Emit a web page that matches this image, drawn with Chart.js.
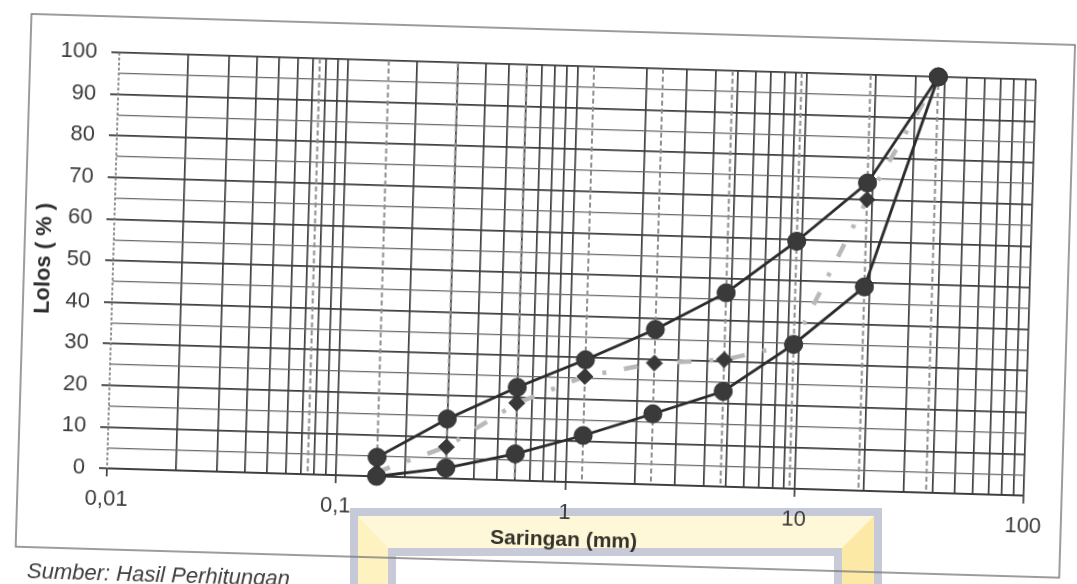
<!DOCTYPE html>
<html>
<head>
<meta charset="utf-8">
<style>
  html, body { margin: 0; padding: 0; background: #ffffff; width: 1077px; height: 584px; overflow: hidden; }
  #wm-outer { position: absolute; left: 350px; top: 508px; width: 516px; height: 200px;
    border-top: 8px solid #c6c9d8; border-left: 8px solid #c6c9d8; border-right: 8px solid #c6c9d8; }
  #wm-mid { position: absolute; left: 0; top: 0; right: 0; bottom: 0;
    border-top: 32px solid #fff8d8; border-left: 30px solid #fdf2c0; border-right: 32px solid #fce9a6; }
  #wm-inner { position: absolute; left: 0; top: 0; right: 0; bottom: 0;
    border-top: 8px solid #c8cad8; border-left: 8px solid #c8cad8; border-right: 8px solid #c8cad8; background: #ffffff; }
  #wrap { position: absolute; left: 0; top: 0; width: 1100px; height: 640px;
    transform-origin: 569px 274px; transform: rotate(1.7deg); }
  canvas { display: block; }
</style>
<script src="https://cdn.jsdelivr.net/npm/chart.js@4/dist/chart.umd.min.js"></script>
</head>
<body>
<div id="wm-outer"><div id="wm-mid"><div id="wm-inner"></div></div></div>
<div id="wrap"><canvas id="c" width="1100" height="640"></canvas></div>
<script>
// ---- data ----
const sieveSizes = [0.15, 0.3, 0.6, 1.18, 2.36, 4.75, 9.5, 19, 37.5];
const upperLimit = [4.6, 14.3, 22.4, 29.5, 37.3, 46.6, 59.5, 74.0, 100];
const gradation  = [1.0, 7.6, 18.6, 25.5, 29.2, 30.5, 34.8, 70.0, 100];
const lowerLimit = [0.0, 2.5, 6.4, 11.3, 17.0, 22.9, 34.7, 49.0, 100];
const sieveLines = [0.075, 0.15, 0.3, 0.6, 1.18, 2.36, 4.75, 9.5, 19, 37.5];
const xTickValues = [0.01, 0.1, 1, 10, 100];
const xTickLabels = ['0,01', '0,1', '1', '10', '100'];
const yTickValues = [0, 10, 20, 30, 40, 50, 60, 70, 80, 90, 100];
const yTickLabels = ['0', '10', '20', '30', '40', '50', '60', '70', '80', '90', '100'];
const xTitle = 'Saringan (mm)';
const yTitle = 'Lolos ( % )';
const sourceNote = 'Sumber: Hasil Perhitungan';

function pts(ys) { return sieveSizes.map((x, i) => ({ x: x, y: ys[i] })); }
function sameLog(a, b) { return Math.abs(Math.log10(a) - Math.log10(b)) < 1e-6; }
function isMajorX(v) { return xTickValues.some(t => sameLog(v, t)); }
function xLabel(v) {
  const i = xTickValues.findIndex(t => sameLog(v, t));
  return i >= 0 ? xTickLabels[i] : '';
}
function yLabel(v) {
  const i = yTickValues.findIndex(t => Math.abs(t - v) < 1e-6);
  return i >= 0 ? yTickLabels[i] : '';
}

const FONT = "'Liberation Sans', Arial, sans-serif";

const decorPlugin = {
  id: 'decor',
  beforeDraw(chart) {
    const ctx = chart.ctx;
    ctx.save();
    ctx.strokeStyle = '#7c7c7c';
    ctx.lineWidth = 1.5;
    ctx.strokeRect(24, 30, 1044, 533);
    ctx.fillStyle = '#3e3e3e';
    ctx.font = 'italic 22px ' + FONT;
    ctx.textBaseline = 'middle';
    ctx.textAlign = 'left';
    ctx.fillText(sourceNote, 36, 588);
    ctx.restore();
  },
  beforeDatasetsDraw(chart) {
    const ctx = chart.ctx;
    const xs = chart.scales.x;
    const a = chart.chartArea;
    ctx.save();
    // left edge drawn as a grey dashed line
    ctx.strokeStyle = '#7a7a7a';
    ctx.lineWidth = 1.6;
    ctx.setLineDash([3, 2]);
    const lx = xs.getPixelForValue(xTickValues[0]);
    ctx.beginPath(); ctx.moveTo(lx, a.top); ctx.lineTo(lx, a.bottom); ctx.stroke();
    // dashed sieve lines
    ctx.strokeStyle = '#8e8e8e';
    ctx.lineWidth = 2;
    ctx.setLineDash([5, 3]);
    sieveLines.forEach(v => {
      const px = xs.getPixelForValue(v);
      ctx.beginPath();
      ctx.moveTo(px, a.top);
      ctx.lineTo(px, a.bottom);
      ctx.stroke();
    });
    ctx.restore();
  }
};

new Chart(document.getElementById('c'), {
  type: 'line',
  data: {
    datasets: [
      {
        label: 'Batas Atas', data: pts(upperLimit), order: 1, clip: false,
        borderColor: '#2b2b2b', borderWidth: 2.8, tension: 0,
        pointRadius: 9, pointBackgroundColor: '#3a3a3a', pointBorderColor: '#303030', pointBorderWidth: 1
      },
      {
        label: 'Batas Bawah', data: pts(lowerLimit), order: 2, clip: false,
        borderColor: '#2b2b2b', borderWidth: 2.8, tension: 0,
        pointRadius: 9, pointBackgroundColor: '#3a3a3a', pointBorderColor: '#303030', pointBorderWidth: 1
      },
      {
        label: 'Gradasi', data: pts(gradation), order: 3, clip: false,
        borderColor: '#b8b8b8', borderWidth: 4.5, borderDash: [14, 18, 4, 18], tension: 0,
        pointStyle: 'rectRot', pointRadius: 8, pointBackgroundColor: '#383838', pointBorderColor: '#383838', pointBorderWidth: 1
      }
    ]
  },
  options: {
    responsive: false,
    devicePixelRatio: 1,
    animation: false,
    events: [],
    layout: { padding: { left: 20, top: 66, right: 70, bottom: 78 } },
    plugins: { legend: { display: false }, tooltip: { enabled: false }, title: { display: false } },
    scales: {
      x: {
        type: 'logarithmic', min: 0.01, max: 100,
        afterBuildTicks(scale) {
          const t = [];
          for (let d = 0; d < xTickValues.length - 1; d++) {
            for (let m = 1; m <= 9; m++) t.push({ value: +(m * xTickValues[d]).toPrecision(6) });
          }
          t.push({ value: xTickValues[xTickValues.length - 1] });
          scale.ticks = t;
        },
        afterFit(scale) { scale.height = 80; },
        border: { display: true, color: '#3a3a3a', width: 1.8 },
        grid: {
          color: ctx => (ctx.tick && sameLog(ctx.tick.value, xTickValues[0])) ? 'rgba(0,0,0,0)' : '#404040',
          lineWidth: 1.7, drawTicks: true, tickLength: 8,
          tickColor: ctx => (ctx.tick && isMajorX(ctx.tick.value)) ? '#404040' : 'rgba(0,0,0,0)'
        },
        ticks: {
          autoSkip: false, maxRotation: 0, minRotation: 0, padding: 10,
          color: '#3c3c3c', font: { family: FONT, size: 22 },
          callback: v => xLabel(v)
        },
        title: {
          display: true, text: xTitle, color: '#33312a',
          font: { family: FONT, size: 21, weight: 'bold' }, padding: { top: 0, bottom: 9 }
        }
      },
      y: {
        type: 'linear', min: 0, max: 100,
        afterFit(scale) { scale.width = 93; },
        border: { display: false },
        grid: {
          color: ctx => (ctx.tick && ctx.tick.value % 10 === 0) ? '#3e3e3e' : '#6a6a6a',
          lineWidth: ctx => (ctx.tick && ctx.tick.value % 10 === 0) ? 1.8 : 1.2,
          drawTicks: true, tickLength: 8,
          tickColor: ctx => (ctx.tick && ctx.tick.value % 10 === 0) ? '#3e3e3e' : 'rgba(0,0,0,0)'
        },
        ticks: {
          stepSize: 5, autoSkip: false, padding: 14,
          color: '#3c3c3c', font: { family: FONT, size: 22 },
          callback: v => yLabel(v)
        },
        title: {
          display: true, text: yTitle, color: '#2e2e2e',
          font: { family: FONT, size: 22, weight: 'bold' }, padding: { top: 11, bottom: 0 }
        }
      }
    }
  },
  plugins: [decorPlugin]
});
</script>
</body>
</html>
